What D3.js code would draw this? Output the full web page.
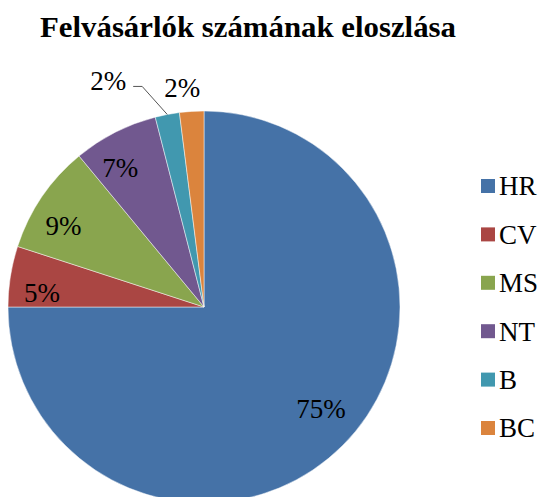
<!DOCTYPE html>
<html>
<head>
<meta charset="utf-8">
<script src="https://cdn.jsdelivr.net/npm/d3@7"></script>
<style>
  html, body { margin: 0; padding: 0; background: #fff; }
</style>
</head>
<body>
<svg id="chart" width="543" height="497"></svg>
<script>
// Felvásárlók számának eloszlása — share of buyers per group
const categories = ['HR', 'CV', 'MS', 'NT', 'B', 'BC'];
const shares     = [75, 5, 9, 7, 2, 2];
const colors     = ['#4572A7', '#AA4643', '#89A54E', '#71588F', '#4198AF', '#DB843D'];
const title = 'Felvásárlók számának eloszlása';

const FONT = "'Liberation Serif'";
const svg = d3.select('#chart');
const cx = 204, cy = 307, r = 196;

svg.append('text')
  .attr('x', 248).attr('y', 37)
  .attr('text-anchor', 'middle')
  .style('font-family', FONT)
  .style('font-size', '30px').style('font-weight', 'bold')
  .attr('textLength', 416).attr('lengthAdjust', 'spacingAndGlyphs')
  .text(title);

const data = categories.map((c, i) => ({ name: c, value: shares[i], color: colors[i] }));
const pie = d3.pie().value(d => d.value).sort(null);
const arcs = pie(data);
const arc = d3.arc().innerRadius(0).outerRadius(r);

const g = svg.append('g').attr('transform', 'translate(' + cx + ',' + cy + ')');
g.selectAll('path').data(arcs).join('path')
  .attr('d', arc)
  .attr('fill', d => d.data.color)
  .attr('stroke', '#fff').attr('stroke-width', 0.8).attr('stroke-opacity', 0.6);

// labels: inside for the wide slices, outside end for the thin ones.
// Excel sits them a touch counter-clockwise of the slice middle.
const inside = arcs.filter(d => d.value >= 5);
const outside = arcs.filter(d => d.value < 5);
function insidePos(d){
  const a = (d.startAngle + d.endAngle) / 2 - 0.07;
  const rr = r * (d.value > 50 ? 0.79 : 0.83);
  return [Math.sin(a) * rr, -Math.cos(a) * rr];
}

g.selectAll('text.in').data(inside).join('text')
  .attr('class', 'in')
  .attr('transform', d => 'translate(' + insidePos(d) + ')')
  .attr('text-anchor', 'middle').attr('dy', '0.35em')
  .style('font-family', FONT).style('font-size', '27px')
  .text(d => d.value + '%');

// outside labels laid right-to-left above the pie, later ones pushed left with a leader
const outArc = d3.arc().innerRadius(r + 24).outerRadius(r + 24);
const edgeArc = d3.arc().innerRadius(r).outerRadius(r);
let prev = null;
outside.slice().reverse().forEach(d => {
  let [x, y] = outArc.centroid(d);
  x -= 8;
  let leader = false;
  if (prev && x > prev[0] - 74) { x = prev[0] - 74; y = prev[1] - 7; leader = true; }
  g.append('text')
    .attr('x', x).attr('y', y).attr('text-anchor', 'middle').attr('dy', '0.35em')
    .style('font-family', FONT).style('font-size', '27px')
    .text(d.value + '%');
  if (leader) {
    const [ex, ey] = edgeArc.centroid(d);
    g.append('path')
      .attr('d', d3.line()([[x + 25, y + 6], [x + 34, y + 6], [ex, ey]]))
      .attr('fill', 'none').attr('stroke', '#555').attr('stroke-width', 1);
  }
  prev = [x, y];
});

// legend
const ly = d3.scalePoint().domain(categories).range([186, 428]);
const leg = svg.append('g').selectAll('g').data(data).join('g')
  .attr('transform', d => 'translate(481,' + ly(d.name) + ')');
leg.append('rect').attr('x', 0).attr('y', -7).attr('width', 14).attr('height', 14)
  .attr('fill', d => d.color);
leg.append('text').attr('x', 18).attr('dy', '0.35em')
  .style('font-family', FONT).style('font-size', '27px')
  .text(d => d.name);
</script>
</body>
</html>
